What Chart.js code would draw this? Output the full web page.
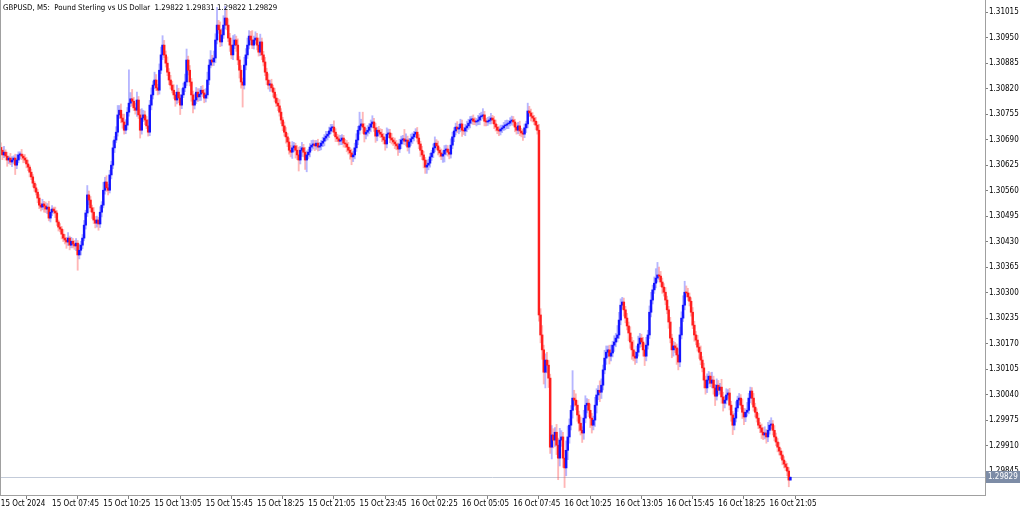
<!DOCTYPE html>
<html><head><meta charset="utf-8">
<script src="https://cdn.jsdelivr.net/npm/chart.js@4"></script>
<style>html,body{margin:0;padding:0;background:#fff;overflow:hidden}#wrap{width:1024px;height:509px;position:relative}</style>
</head><body><div id="wrap"><canvas id="c" width="1024" height="509"></canvas></div>
<script>
const symbolTitle = "GBPUSD, M5:  Pound Sterling vs US Dollar  1.29822 1.29831 1.29822 1.29829";
const firstOpen = 1.30670;
const closes = [
1.30663,1.30651,1.30658,1.30648,1.30638,1.30643,1.30633,1.30638,1.30643,1.30625,
1.30638,1.30651,1.30653,1.30648,1.30643,1.30638,1.30628,1.30620,1.30607,1.30595,
1.30579,1.30567,1.30556,1.30541,1.30523,1.30518,1.30526,1.30521,1.30513,1.30518,
1.30490,1.30505,1.30513,1.30508,1.30503,1.30480,1.30467,1.30462,1.30449,1.30439,
1.30434,1.30429,1.30439,1.30421,1.30431,1.30424,1.30419,1.30426,1.30396,1.30408,
1.30421,1.30439,1.30472,1.30503,1.30549,1.30536,1.30516,1.30505,1.30485,1.30477,
1.30485,1.30475,1.30505,1.30523,1.30561,1.30582,1.30567,1.30561,1.30600,1.30625,
1.30669,1.30689,1.30709,1.30753,1.30765,1.30745,1.30735,1.30714,1.30727,1.30760,
1.30783,1.30794,1.30788,1.30771,1.30765,1.30791,1.30753,1.30714,1.30745,1.30753,
1.30740,1.30725,1.30709,1.30778,1.30804,1.30829,1.30842,1.30822,1.30816,1.30867,
1.30906,1.30931,1.30906,1.30885,1.30862,1.30842,1.30829,1.30816,1.30804,1.30791,
1.30811,1.30796,1.30778,1.30804,1.30822,1.30837,1.30893,1.30867,1.30837,1.30804,
1.30778,1.30791,1.30811,1.30799,1.30806,1.30816,1.30809,1.30796,1.30804,1.30842,
1.30880,1.30893,1.30888,1.30898,1.30944,1.30982,1.30970,1.30939,1.30957,1.30982,
1.31000,1.30982,1.30949,1.30931,1.30906,1.30931,1.30944,1.30931,1.30893,1.30867,
1.30837,1.30829,1.30880,1.30906,1.30931,1.30954,1.30944,1.30931,1.30944,1.30949,
1.30931,1.30913,1.30939,1.30906,1.30888,1.30862,1.30842,1.30829,1.30832,1.30822,
1.30811,1.30796,1.30783,1.30776,1.30760,1.30740,1.30725,1.30709,1.30697,1.30684,
1.30663,1.30658,1.30669,1.30674,1.30663,1.30651,1.30638,1.30663,1.30669,1.30658,
1.30638,1.30651,1.30658,1.30671,1.30676,1.30679,1.30674,1.30681,1.30671,1.30674,
1.30681,1.30686,1.30694,1.30699,1.30704,1.30712,1.30720,1.30722,1.30709,1.30697,
1.30692,1.30686,1.30689,1.30694,1.30681,1.30679,1.30671,1.30663,1.30656,1.30646,
1.30651,1.30669,1.30689,1.30714,1.30725,1.30730,1.30722,1.30704,1.30709,1.30714,
1.30722,1.30730,1.30735,1.30720,1.30699,1.30714,1.30709,1.30704,1.30697,1.30689,
1.30679,1.30704,1.30707,1.30694,1.30689,1.30684,1.30679,1.30674,1.30666,1.30679,
1.30689,1.30692,1.30686,1.30689,1.30671,1.30684,1.30692,1.30697,1.30704,1.30709,
1.30694,1.30679,1.30663,1.30651,1.30638,1.30620,1.30625,1.30630,1.30646,1.30656,
1.30669,1.30681,1.30674,1.30663,1.30656,1.30648,1.30653,1.30663,1.30666,1.30658,
1.30653,1.30676,1.30697,1.30712,1.30722,1.30717,1.30720,1.30730,1.30714,1.30712,
1.30720,1.30725,1.30732,1.30740,1.30743,1.30737,1.30735,1.30737,1.30740,1.30748,
1.30750,1.30753,1.30737,1.30735,1.30737,1.30740,1.30745,1.30740,1.30730,1.30722,
1.30714,1.30712,1.30717,1.30720,1.30725,1.30727,1.30730,1.30732,1.30737,1.30740,
1.30735,1.30722,1.30714,1.30725,1.30712,1.30707,1.30704,1.30720,1.30730,1.30763,
1.30758,1.30750,1.30745,1.30737,1.30727,1.30714,1.30243,1.30192,1.30154,1.30097,
1.30128,1.30115,1.30082,1.29906,1.29937,1.29924,1.29944,1.29911,1.29878,1.29924,
1.29932,1.29878,1.29853,1.29898,1.29932,1.29962,1.30000,1.30031,1.30026,1.30013,
1.29988,1.29967,1.29949,1.29942,1.29980,1.30013,1.30018,1.30000,1.29980,1.29962,
1.29975,1.30013,1.30039,1.30051,1.30046,1.30064,1.30103,1.30133,1.30148,1.30154,
1.30138,1.30146,1.30166,1.30174,1.30184,1.30192,1.30230,1.30268,1.30276,1.30256,
1.30235,1.30215,1.30197,1.30174,1.30154,1.30138,1.30133,1.30148,1.30169,1.30184,
1.30174,1.30154,1.30138,1.30166,1.30192,1.30250,1.30281,1.30307,1.30324,1.30337,
1.30345,1.30342,1.30327,1.30314,1.30301,1.30281,1.30256,1.30225,1.30184,1.30154,
1.30164,1.30159,1.30141,1.30123,1.30192,1.30235,1.30268,1.30301,1.30299,1.30289,
1.30278,1.30250,1.30217,1.30192,1.30179,1.30161,1.30148,1.30128,1.30108,1.30077,
1.30057,1.30077,1.30087,1.30069,1.30077,1.30057,1.30036,1.30064,1.30051,1.30059,
1.30034,1.30018,1.30026,1.30039,1.30044,1.30013,1.29988,1.29962,1.29980,1.30006,
1.30026,1.30031,1.30013,1.29995,1.29983,1.29995,1.30000,1.30031,1.30049,1.30031,
1.30008,1.29995,1.29980,1.29962,1.29955,1.29944,1.29937,1.29942,1.29932,1.29949,
1.29962,1.29965,1.29949,1.29932,1.29919,1.29906,1.29896,1.29886,1.29873,1.29863,
1.29855,1.29845,1.29822,1.29829
];
// wick lengths beyond the body, in points (0.00001)
const upWick = [
12,8,15,6,10,5,12,9,6,10,14,8,6,12,5,9,7,10,5,8,
6,5,10,7,9,5,12,7,10,9,15,7,9,5,10,6,5,9,7,12,
9,7,14,5,10,7,9,12,7,16,10,9,12,7,24,10,9,7,12,9,
10,7,14,9,20,12,16,9,12,10,18,9,14,24,12,16,10,20,14,12,
85,16,24,10,12,20,9,14,24,12,10,9,16,12,18,10,20,14,9,16,
20,24,12,10,16,9,12,10,14,7,18,10,9,16,12,20,28,10,12,9,
10,16,12,9,14,10,12,9,16,20,14,24,12,18,16,45,12,20,16,24,
30,20,16,12,18,24,14,10,16,9,12,10,20,16,18,14,12,24,10,16,
12,18,20,10,9,12,10,16,9,12,7,10,9,12,16,9,7,10,12,9,
10,12,16,9,7,12,20,10,14,9,12,10,7,9,12,10,9,7,10,9,
7,10,9,12,7,10,9,7,16,9,7,10,12,9,7,10,9,12,7,10,
9,12,16,10,35,12,30,9,10,12,9,10,16,9,12,7,10,9,12,9,
7,16,10,9,12,7,10,9,7,12,10,9,24,16,10,9,12,10,7,9,
12,9,7,10,9,7,12,10,9,7,10,16,9,12,7,10,9,12,10,9,
7,16,12,9,10,14,9,12,10,7,9,12,10,9,7,10,9,7,12,9,
10,16,9,7,10,9,12,7,9,10,7,9,10,7,9,12,10,7,9,10,
9,7,10,9,12,7,9,10,7,20,12,10,9,7,10,9,15,16,24,12,
16,20,12,10,24,16,12,20,18,30,16,12,20,24,28,16,12,70,20,16,
12,10,16,9,20,24,12,10,16,12,10,20,16,12,24,16,12,20,16,10,
12,20,10,16,12,24,20,16,12,10,9,12,10,16,12,24,12,16,20,12,
10,12,16,20,12,16,20,12,16,24,32,20,12,10,9,12,10,9,12,10,
12,9,10,16,20,16,24,28,16,12,10,9,12,10,9,12,10,16,9,12,
10,16,12,9,20,10,9,16,12,10,20,12,10,16,9,12,10,9,12,16,
10,12,9,16,10,9,20,12,10,9,12,10,9,12,7,10,12,16,9,20,
12,16,9,12,10,9,12,7,10,9,7,10,9,2
];
const downWick = [
9,12,7,10,16,9,7,12,10,24,9,7,10,9,12,7,10,9,12,7,
10,9,7,12,9,10,7,16,9,12,7,10,9,7,12,9,10,7,12,9,
10,16,9,12,7,10,9,12,39,10,12,9,7,10,9,12,10,16,9,12,
10,16,9,12,7,10,9,12,7,10,9,12,7,10,9,12,16,10,9,12,
10,9,12,7,10,16,9,20,10,9,12,7,10,9,12,10,9,7,12,10,
9,12,7,10,9,12,10,7,9,16,10,12,24,9,7,10,9,12,10,16,
20,10,9,12,10,16,9,12,10,9,12,7,10,9,12,10,9,12,10,9,
10,12,9,16,10,12,9,16,12,20,16,56,10,12,9,10,12,9,10,9,
12,10,9,12,10,9,12,10,16,9,12,10,9,12,10,9,12,10,16,12,
10,12,16,10,20,12,28,10,16,12,24,30,10,12,9,10,12,9,10,9,
10,9,12,7,10,9,7,10,9,12,7,10,9,12,10,9,12,10,16,20,
12,10,9,12,10,9,16,20,12,10,9,12,10,9,16,12,10,9,12,10,
16,10,9,12,10,9,12,10,16,9,12,10,9,12,10,16,9,12,10,9,
10,12,16,12,20,16,16,12,10,9,12,10,9,12,10,9,16,20,12,10,
12,10,9,12,10,9,12,10,16,9,12,10,9,12,10,9,7,10,9,12,
9,7,12,10,9,7,10,9,12,10,9,12,10,9,7,10,9,12,7,10,
9,12,10,9,12,10,16,9,12,10,9,12,10,9,12,10,16,20,24,30,
40,20,24,16,30,20,16,24,55,20,16,24,50,20,24,16,12,20,16,12,
16,20,12,24,16,12,20,16,24,20,12,16,20,12,24,16,12,10,16,12,
20,12,10,16,12,10,9,12,10,16,12,10,20,16,24,12,16,12,10,9,
12,16,24,12,10,9,12,10,9,12,10,9,12,16,10,12,10,16,12,20,
16,12,24,20,12,10,9,12,10,9,12,10,9,16,12,10,16,12,10,20,
16,12,10,9,12,16,24,10,12,10,16,20,12,10,9,12,16,24,12,10,
9,12,10,16,20,12,10,9,12,16,10,12,10,9,12,16,12,10,16,12,
10,9,12,10,9,12,10,9,12,10,9,12,17,0
];
const timeLabels = ["15 Oct 2024","15 Oct 07:45","15 Oct 10:25","15 Oct 13:05","15 Oct 15:45","15 Oct 18:25","15 Oct 21:05","15 Oct 23:45","16 Oct 02:25","16 Oct 05:05","16 Oct 07:45","16 Oct 10:25","16 Oct 13:05","16 Oct 15:45","16 Oct 18:25","16 Oct 21:05"];
const barsPerLabel = 32;
const priceTicks = [1.29845,1.29910,1.29975,1.30040,1.30105,1.30170,1.30235,1.30300,1.30365,1.30430,1.30495,1.30560,1.30625,1.30690,1.30755,1.30820,1.30885,1.30950,1.31015];
const lastPrice = 1.29829;
const yMin = 1.29784, yMax = 1.31046;
const xSlots = 615;

const PT = 0.00001;
const bodyData = [], wickData = [], bodyColors = [], wickColors = [];
closes.forEach((c, i) => {
  const o = i === 0 ? firstOpen : closes[i - 1];
  const hi = Math.max(o, c) + upWick[i] * PT;
  const lo = Math.min(o, c) - downWick[i] * PT;
  bodyData.push({x: i, y: [o, c]});
  wickData.push({x: i, y: [lo, hi]});
  const up = c >= o;
  bodyColors.push(up ? '#1414ff' : '#ff1e1e');
  wickColors.push(up ? 'rgba(80,80,255,0.42)' : 'rgba(255,80,80,0.42)');
});

const FONT = "'DejaVu Sans Condensed','DejaVu Sans',sans-serif";

const overlay = {
  id: 'overlay',
  beforeDatasetsDraw(chart) {
    const {ctx, chartArea: a, scales: {y}} = chart;
    const py = Math.round(y.getPixelForValue(lastPrice)) + 0.5;
    ctx.save();
    ctx.strokeStyle = '#c3cbd9';
    ctx.lineWidth = 1;
    ctx.beginPath(); ctx.moveTo(a.left, py); ctx.lineTo(a.right, py); ctx.stroke();
    ctx.restore();
  },
  afterDraw(chart) {
    const {ctx, chartArea: a, scales: {y}} = chart;
    ctx.save();
    ctx.strokeStyle = '#a0a0a0';
    ctx.lineWidth = 1;
    ctx.beginPath(); ctx.moveTo(0.5, 0); ctx.lineTo(0.5, a.bottom + 0.5); ctx.stroke();
    const py = Math.round(y.getPixelForValue(lastPrice));
    ctx.fillStyle = '#7d8ca6';
    ctx.fillRect(a.right + 1, py - 6, 34, 12);
    ctx.fillStyle = '#ffffff';
    ctx.font = "8px " + FONT;
    ctx.textBaseline = 'middle';
    ctx.textAlign = 'left';
    ctx.fillText(lastPrice.toFixed(5), a.right + 3, py);
    ctx.fillStyle = '#000000';
    ctx.textBaseline = 'alphabetic';
    ctx.font = "7.8px " + FONT;
    ctx.fillText(symbolTitle, 3, 10);
    ctx.restore();
  }
};

new Chart(document.getElementById('c'), {
  type: 'bar',
  data: {
    datasets: [
      {label: 'body', data: bodyData, backgroundColor: bodyColors, barThickness: 1.8, grouped: false, order: 0, minBarLength: 1},
      {label: 'wick', data: wickData, backgroundColor: wickColors, barThickness: 1.2, grouped: false, order: 1}
    ]
  },
  options: {
    responsive: false, animation: false, events: [],
    layout: {padding: 0},
    plugins: {legend: {display: false}, tooltip: {enabled: false}, title: {display: false}},
    scales: {
      x: {
        type: 'linear', min: -0.5, max: xSlots - 0.5, offset: false,
        grid: {drawOnChartArea: false, drawTicks: true, tickLength: 4, color: '#808080'},
        border: {display: true, color: '#a0a0a0'},
        ticks: {autoSkip: false, maxRotation: 0, align: 'start', padding: 0, color: '#000',
          font: {family: FONT, size: 8},
          callback: v => timeLabels[Math.round(v / barsPerLabel)] || ''},
        afterBuildTicks: s => { s.ticks = timeLabels.map((_, k) => ({value: k * barsPerLabel})); },
        afterFit: s => { s.height = 14; s.paddingLeft = 0; s.paddingRight = 0; }
      },
      y: {
        type: 'linear', position: 'right', min: yMin, max: yMax,
        grid: {drawOnChartArea: false, tickLength: 3, color: '#808080'},
        border: {display: true, color: '#a0a0a0'},
        ticks: {padding: 1, color: '#000', font: {family: FONT, size: 8}, callback: v => v.toFixed(5)},
        afterBuildTicks: s => { s.ticks = priceTicks.map(v => ({value: v})); },
        afterFit: s => { s.width = 39; s.paddingTop = 0; s.paddingBottom = 0; }
      }
    }
  },
  plugins: [overlay]
});
</script>
</body></html>
